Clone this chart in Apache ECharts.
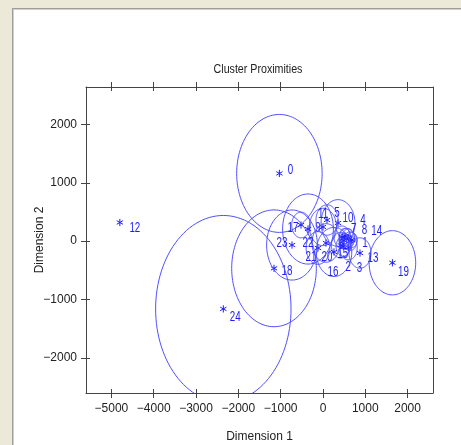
<!DOCTYPE html>
<html>
<head>
<meta charset="utf-8">
<script src="https://cdn.jsdelivr.net/npm/echarts@6/dist/echarts.min.js"></script>
<style>
html, body { margin: 0; padding: 0; background: #fff; }
#chart { width: 461px; height: 445px; }
</style>
</head>
<body>
<div id="chart"></div>
<script>
// cluster centres on the two canonical dimensions, and the circle radius of each
const clusterIds = [0, 1, 2, 3, 4, 5, 6, 7, 8, 9, 10, 11, 12, 13, 14, 15, 16, 17, 18, 19, 20, 21, 22, 23, 24];
const dim1 = [-1030, 640, 480, 600, 520, 355, 500, 560, 600, 0, 450, 95, -4800, 875, 680, 420, 260, -519, -1157, 1641, 71, -118, -354, -732, -2355];
const dim2 = [1160, 0, -90, -110, 90, 311, 10, 40, 60, 243, 70, 362, 320, -203, 20, -70, -185, 277, -465, -370, -31, -117, 208, -66, -1160];
const radius = [1010, 160, 170, 210, 130, 400, 120, 180, 150, 320, 190, 260, 0, 260, 130, 220, 420, 220, 1000, 550, 330, 280, 600, 600, 1600];

const xTicks = [-5000, -4000, -3000, -2000, -1000, 0, 1000, 2000];
const yTicks = [-2000, -1000, 0, 1000, 2000];

// where each point label sits relative to its star (pixels), like the plot's own placement
const labelOffset = [[11, -3], [15, 2], [5, 21], [11, 21], [18, -16], [-1, -10], [-3, 5], [7, -10], [16, -8], [-5, 1],
  [6, -19], [-4, -6], [15, 6], [13, 5], [25, -9], [2, 9], [-1, 20], [-8, 3], [13, 3], [11, 9],
  [1, 14], [-7, 9], [0, 14], [-10, -2], [12, 8]];

const FONT = "'Liberation Sans', Arial, sans-serif";
const circleColor = '#4f4fff';
const markColor = '#1c1cff';
const axisColor = '#444';

const data = clusterIds.map((id, i) => [dim1[i], dim2[i], radius[i], id]);

function renderItem(params, api) {
  const c = api.coord([api.value(0), api.value(1)]);
  const s = api.size([api.value(2), api.value(2)]);
  const i = params.dataIndex;
  const children = [];
  if (api.value(2) > 0) {
    const pts = [];
    for (let k = 0; k < 120; k++) {
      const a = k / 120 * Math.PI * 2;
      pts.push([c[0] + s[0] * Math.cos(a), c[1] + s[1] * Math.sin(a)]);
    }
    children.push({
      type: 'polygon', shape: { points: pts },
      style: { fill: 'none', stroke: circleColor, lineWidth: 1 }
    });
  }
  [90, 30, 150].forEach(function (deg) {
    const a = deg * Math.PI / 180, r = 3.6;
    children.push({
      type: 'line',
      shape: { x1: c[0] - r * Math.cos(a), y1: c[1] - r * Math.sin(a), x2: c[0] + r * Math.cos(a), y2: c[1] + r * Math.sin(a) },
      style: { stroke: markColor, lineWidth: 1 }
    });
  });
  children.push({
    type: 'text',
    x: c[0] + labelOffset[i][0], y: c[1] + labelOffset[i][1], scaleX: 0.7,
    style: {
      text: String(api.value(3)), x: 0, y: 0,
      align: 'center', verticalAlign: 'middle',
      fill: markColor, font: '14px ' + FONT
    }
  });
  return { type: 'group', children: children };
}

const minus = v => String(v).replace('-', '\u2212');
const tickStyle = { color: axisColor, width: 1 };

function xAx(grid, pos, inside, labels) {
  return {
    type: 'value', gridIndex: grid, position: pos, min: -5600, max: 2600,
    name: labels ? 'Dimension 1' : '', nameLocation: 'middle', nameGap: 38, nameMoveOverlap: false,
    nameTextStyle: { fontFamily: FONT, fontSize: 12, color: '#222' },
    axisLine: { show: !inside, onZero: false, lineStyle: tickStyle },
    axisTick: { show: true, inside: inside, length: inside ? 4 : 5, customValues: xTicks, lineStyle: tickStyle },
    axisLabel: { show: labels, customValues: xTicks, formatter: minus, margin: 10, fontFamily: FONT, fontSize: 12, color: '#222' },
    splitLine: { show: false }
  };
}
function yAx(grid, pos, inside, labels) {
  return {
    type: 'value', gridIndex: grid, position: pos, min: -2600, max: 2640,
    name: labels ? 'Dimension 2' : '', nameLocation: 'middle', nameGap: 40, nameMoveOverlap: false,
    nameTextStyle: { fontFamily: FONT, fontSize: 12, color: '#222' },
    axisLine: { show: !inside, onZero: false, lineStyle: tickStyle },
    axisTick: { show: true, inside: inside, length: inside ? 4 : 5, customValues: yTicks, lineStyle: tickStyle },
    axisLabel: { show: labels, customValues: yTicks, formatter: minus, margin: 9, fontFamily: FONT, fontSize: 12, color: '#222' },
    splitLine: { show: false }
  };
}

const gridBox = { left: 86, right: 28, top: 87, bottom: 52, containLabel: false, outerBoundsMode: 'none' };
const chart = echarts.init(document.getElementById('chart'), null, { renderer: 'canvas' });
chart.setOption({
  animation: false,
  backgroundColor: '#fff',
  graphic: [
    { type: 'rect', shape: { x: 0, y: 0, width: 461, height: 8 }, style: { fill: '#ece9d8' } },
    { type: 'rect', shape: { x: 0, y: 0, width: 12, height: 445 }, style: { fill: '#ece9d8' } },
    { type: 'line', shape: { x1: 12.5, y1: 8, x2: 12.5, y2: 445 }, style: { stroke: '#9d9d9d', lineWidth: 1 } },
    { type: 'line', shape: { x1: 12, y1: 8.5, x2: 461, y2: 8.5 }, style: { stroke: '#9d9d9d', lineWidth: 1 } },
    { type: 'line', shape: { x1: 13.5, y1: 9, x2: 13.5, y2: 445 }, style: { stroke: '#d4d0c8', lineWidth: 1 } },
    { type: 'line', shape: { x1: 13, y1: 9.5, x2: 461, y2: 9.5 }, style: { stroke: '#d4d0c8', lineWidth: 1 } },
    {
      type: 'text', x: 258, y: 69, scaleX: 0.82,
      style: { text: 'Cluster Proximities', x: 0, y: 0, align: 'center', verticalAlign: 'middle', fill: '#222', font: '13px ' + FONT }
    }
  ],
  grid: [Object.assign({}, gridBox), Object.assign({}, gridBox)],
  xAxis: [xAx(0, 'bottom', false, true), xAx(0, 'top', false, false), xAx(1, 'bottom', true, false), xAx(1, 'top', true, false)],
  yAxis: [yAx(0, 'left', false, true), yAx(0, 'right', false, false), yAx(1, 'left', true, false), yAx(1, 'right', true, false)],
  series: [{
    type: 'custom', xAxisIndex: 0, yAxisIndex: 0, clip: true,
    renderItem: renderItem, data: data
  }]
});
</script>
</body>
</html>
